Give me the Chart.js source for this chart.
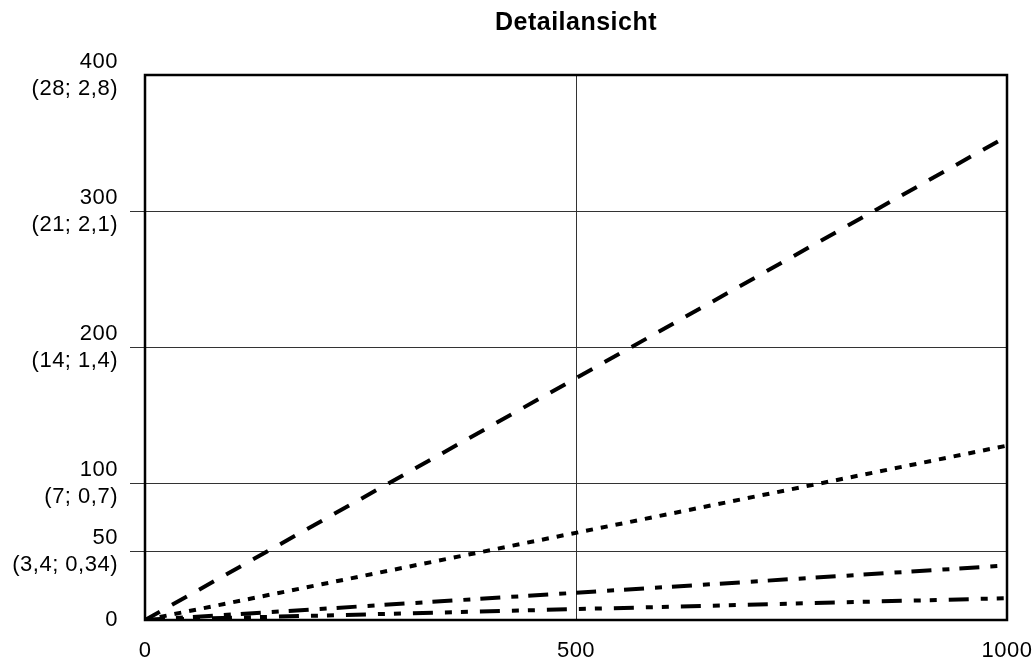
<!DOCTYPE html>
<html>
<head>
<meta charset="utf-8">
<script src="https://cdn.jsdelivr.net/npm/chart.js@4"></script>
<style>
  html, body { margin: 0; padding: 0; background: #fff; }
  #wrap { width: 1034px; height: 664px; }
</style>
</head>
<body>
<div id="wrap"><canvas id="detailChart"></canvas></div>
<script>
// Data
const xValues = [0, 1000];
const seriesDashed = [0, 355];
const seriesDotted = [0, 128];
const seriesDashDot = [0, 40];
const seriesDashDotDot = [0, 16];

const xTicks = [0, 500, 1000];
const yTicks = [0, 50, 100, 200, 300, 400];
const yTickNotes = ['', '(3,4; 0,34)', '(7; 0,7)', '(14; 1,4)', '(21; 2,1)', '(28; 2,8)'];

const font = "'Liberation Sans', Arial, sans-serif";

function toPoints(ys) {
    return xValues.map((x, i) => ({ x: x, y: ys[i] }));
}

function lineSet(label, ys, dash) {
    return {
        label: label,
        data: toPoints(ys),
        borderColor: '#000',
        borderWidth: 4,
        borderDash: dash,
        borderCapStyle: 'butt',
        pointRadius: 0,
        fill: false,
        tension: 0
    };
}

// slightly wider text spacing, like the original rendering
const spacing = {
    id: 'spacing',
    beforeUpdate(chart) { chart.ctx.letterSpacing = '0.5px'; },
    beforeDraw(chart) { chart.ctx.letterSpacing = '0.5px'; }
};

// frame around the plot area
const frame = {
    id: 'frame',
    afterDatasetsDraw(chart) {
        const a = chart.chartArea;
        const ctx = chart.ctx;
        ctx.save();
        ctx.strokeStyle = '#000';
        ctx.lineWidth = 2.5;
        ctx.strokeRect(a.left, a.top, a.right - a.left, a.bottom - a.top);
        ctx.restore();
    }
};

const detailCtx = document.getElementById('detailChart').getContext('2d');
new Chart(detailCtx, {
    type: 'line',
    data: {
        datasets: [
            lineSet('Kurve 1', seriesDashed, [17, 14]),
            lineSet('Kurve 2', seriesDotted, [7, 8]),
            lineSet('Kurve 3', seriesDashDot, [20, 11, 7, 10]),
            lineSet('Kurve 4', seriesDashDotDot, [20, 12, 7, 9, 7, 12])
        ]
    },
    options: {
        responsive: true,
        maintainAspectRatio: false,
        animation: false,
        layout: { padding: { left: 0, right: 27, top: 0, bottom: 0 } },
        plugins: {
            legend: { display: false },
            tooltip: { enabled: false },
            title: {
                display: true,
                text: 'Detailansicht',
                fullSize: false,
                color: '#000',
                font: { family: font, size: 25, weight: 'bold', lineHeight: 1.2 },
                padding: { top: 8, bottom: 37 }
            }
        },
        scales: {
            x: {
                type: 'linear',
                min: 0,
                max: 1000,
                afterBuildTicks: scale => { scale.ticks = xTicks.map(v => ({ value: v })); },
                afterFit: scale => {
                    scale.height = 44;
                    scale.paddingLeft = 0;
                    scale.paddingRight = 0;
                },
                border: { display: false },
                grid: {
                    drawTicks: false,
                    color: ctx => (ctx.tick && ctx.tick.value === 500) ? '#333' : 'rgba(0,0,0,0)',
                    lineWidth: 1
                },
                ticks: {
                    color: '#000',
                    padding: 18,
                    maxRotation: 0,
                    font: { family: font, size: 22 },
                    callback: v => String(v)
                }
            },
            y: {
                type: 'linear',
                min: 0,
                max: 400,
                afterBuildTicks: scale => { scale.ticks = yTicks.map(v => ({ value: v })); },
                afterFit: scale => { scale.width = 145; },
                border: { display: false },
                grid: {
                    tickLength: 15,
                    color: ctx => (ctx.tick && (ctx.tick.value === 0 || ctx.tick.value === 400)) ? 'rgba(0,0,0,0)' : '#333',
                    lineWidth: 1
                },
                ticks: {
                    color: '#000',
                    padding: 12,
                    font: { family: font, size: 22, lineHeight: 1.23 },
                    callback: v => {
                        const note = yTickNotes[yTicks.indexOf(v)];
                        return note ? [String(v), note] : String(v);
                    }
                }
            }
        }
    },
    plugins: [spacing, frame]
});
</script>
</body>
</html>
